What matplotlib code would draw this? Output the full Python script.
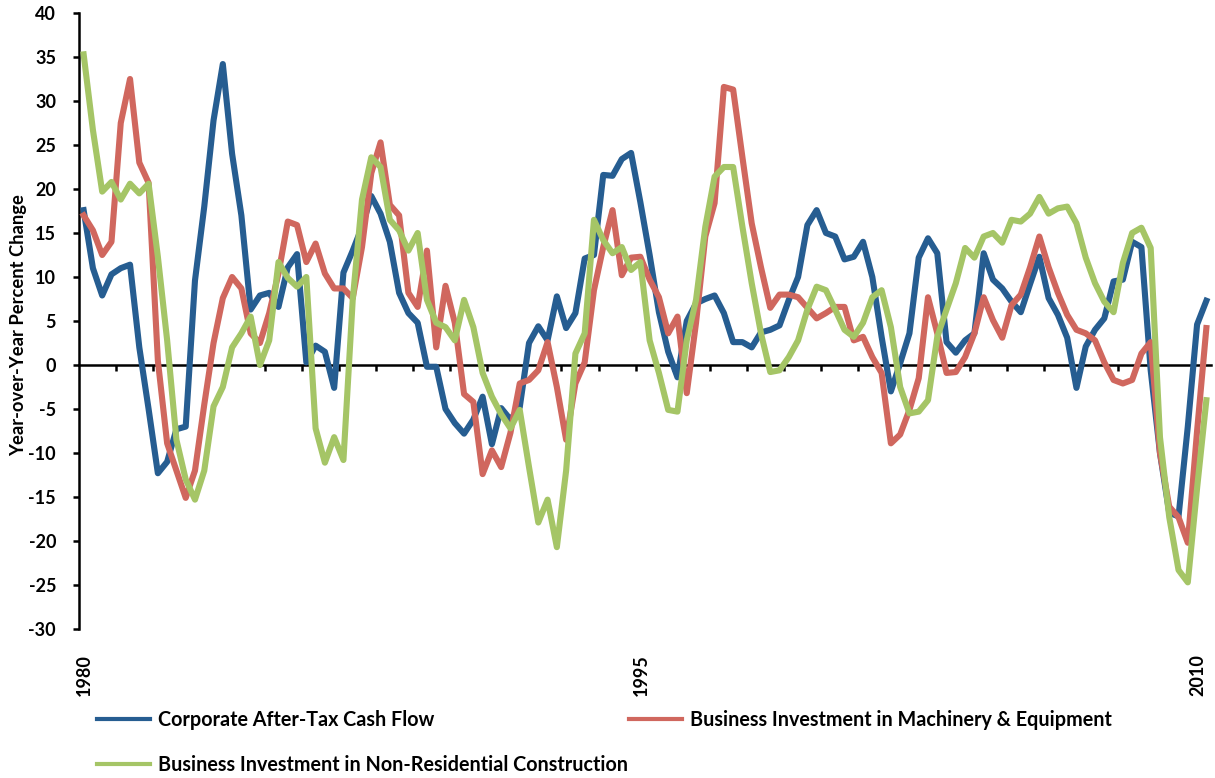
import matplotlib
matplotlib.use("Agg")
import matplotlib.pyplot as plt
from matplotlib import font_manager as fm
from matplotlib.lines import Line2D


def bold_family(candidates):
    # first family that really ships a bold face
    for fam in candidates:
        try:
            path = fm.findfont(fm.FontProperties(family=fam, weight='bold'),
                               fallback_to_default=False)
        except ValueError:
            continue
        if 'bold' in path.lower():
            return fam
    return 'DejaVu Sans'


plt.rcParams['font.family'] = [bold_family(['Lato', 'Noto Sans', 'Open Sans', 'Roboto']),
                               'DejaVu Sans']
plt.rcParams['font.weight'] = 'bold'
plt.rcParams['axes.unicode_minus'] = False

# quarterly year-over-year % changes, 1980Q1 .. 2010Q2
cash_flow = [
    17.6, 11.0, 7.9, 10.3, 11.0, 11.4, 2.0, -5.0, -12.3, -11.0,
    -7.3, -7.0, 9.6, 18.0, 27.8, 34.2, 24.0, 17.0, 6.3, 7.9,
    8.2, 6.6, 11.1, 12.6, 0.3, 2.2, 1.5, -2.6, 10.5, 13.0,
    15.7, 19.2, 17.2, 14.0, 8.2, 5.9, 4.8, -0.2, -0.2, -5.0,
    -6.6, -7.8, -6.2, -3.6, -9.0, -4.9, -6.2, -4.8, 2.5, 4.4,
    2.8, 7.8, 4.2, 5.9, 12.1, 12.5, 21.6, 21.5, 23.4, 24.1,
    18.5, 12.5, 6.0, 1.5, -1.4, 5.0, 7.0, 7.5, 7.9, 5.9,
    2.6, 2.6, 2.0, 3.7, 4.0, 4.5, 7.4, 10.0, 15.9, 17.6,
    15.0, 14.6, 12.0, 12.3, 14.0, 10.0, 3.2, -3.0, 0.2, 3.6,
    12.2, 14.4, 12.7, 2.6, 1.4, 2.8, 3.6, 12.7, 9.7, 8.7,
    7.2, 6.0, 9.2, 12.3, 7.6, 5.7, 3.1, -2.6, 2.1, 4.0,
    5.3, 9.5, 9.7, 14.0, 13.4, -0.6, -10.0, -16.8, -17.2, -7.0,
    4.6, 7.3,
]
machinery = [
    17.0, 15.3, 12.5, 14.0, 27.5, 32.5, 23.0, 20.7, 0.5, -8.9,
    -12.0, -15.1, -12.0, -4.5, 2.5, 7.6, 10.0, 8.7, 3.6, 2.5,
    5.9, 10.4, 16.3, 15.9, 11.7, 13.8, 10.4, 8.7, 8.7, 7.6,
    13.4, 21.8, 25.3, 18.2, 17.0, 8.2, 6.6, 13.0, 2.0, 9.0,
    4.8, -3.3, -4.2, -12.4, -9.7, -11.6, -7.7, -2.1, -1.7, -0.6,
    2.6, -2.5, -8.5, -2.1, 0.3, 8.5, 13.4, 17.6, 10.2, 12.2,
    12.3, 9.7, 7.7, 3.6, 5.5, -3.2, 4.8, 14.6, 18.4, 31.6,
    31.3, 23.6, 16.1, 11.1, 6.5, 8.0, 8.0, 7.7, 6.5, 5.3,
    5.9, 6.6, 6.6, 2.8, 3.2, 0.9, -0.9, -8.9, -7.9, -5.1,
    -1.5, 7.7, 3.6, -0.9, -0.8, 0.9, 3.6, 7.7, 5.1, 3.1,
    6.8, 8.0, 11.1, 14.6, 11.1, 8.2, 5.7, 4.0, 3.6, 2.8,
    0.3, -1.7, -2.1, -1.7, 1.3, 2.6, -10.0, -16.1, -17.3, -20.2,
    -7.5, 4.2,
]
construction = [
    35.3, 26.7, 19.7, 20.8, 18.8, 20.6, 19.5, 20.6, 12.3, 2.8,
    -8.5, -13.0, -15.3, -12.0, -4.7, -2.5, 2.0, 3.6, 5.5, 0.0,
    2.8, 11.7, 9.9, 8.9, 10.0, -7.2, -11.1, -8.2, -10.8, 7.4,
    18.8, 23.6, 22.5, 16.5, 15.3, 13.0, 15.0, 7.4, 4.8, 4.3,
    2.8, 7.4, 4.3, -0.9, -3.6, -5.6, -7.2, -5.1, -11.6, -17.9,
    -15.3, -20.7, -12.0, 1.3, 3.6, 16.5, 14.2, 12.7, 13.4, 10.8,
    11.7, 2.8, -0.9, -5.1, -5.3, 2.8, 7.4, 15.7, 21.4, 22.5,
    22.5, 15.7, 9.3, 3.6, -0.8, -0.6, 0.9, 2.8, 6.3, 8.9,
    8.5, 6.3, 4.0, 3.2, 4.8, 7.7, 8.5, 4.3, -2.5, -5.5,
    -5.3, -4.0, 3.2, 6.3, 9.3, 13.3, 12.2, 14.6, 15.0, 13.9,
    16.5, 16.3, 17.2, 19.1, 17.2, 17.8, 18.0, 16.1, 12.2, 9.3,
    7.2, 6.0, 11.6, 15.0, 15.6, 13.3, -8.2, -17.3, -23.3, -24.7,
    -14.0, -4.0,
]
year_labels = ['1980', '1995', '2010']
label_pos = [0, 60, 120]

names = ['Corporate After-Tax Cash Flow',
         'Business Investment in Machinery & Equipment',
         'Business Investment in Non-Residential Construction']
colors = ['#265D91', '#D0675E', '#A5C566']

W, H = 1215, 778
fig = plt.figure(figsize=(W / 100, H / 100), dpi=100)
ax = fig.add_axes([79 / W, 1 - 629 / H, (1211 - 79) / W, (629 - 13) / H])

n = len(cash_flow)
q = list(range(n))
for vals, c in zip([cash_flow, machinery, construction], colors):
    ax.plot(q, vals, color=c, lw=4.4, solid_joinstyle='round', zorder=3)

ax.set_xlim(-0.5, n - 0.5)
ax.set_ylim(-30, 40)
ax.set_yticks(range(-30, 41, 5))

for s in ['top', 'right']:
    ax.spines[s].set_visible(False)
ax.spines['left'].set_linewidth(1.8)
ax.spines['bottom'].set_position(('data', 0))
ax.spines['bottom'].set_linewidth(1.8)

# yearly tick marks between quarters on the zero line
ax.set_xticks([k * 4 - 0.5 for k in range(1, n // 4 + 1)])
ax.tick_params(axis='x', direction='out', length=4, width=1.8, labelbottom=False)
ax.tick_params(axis='y', direction='out', length=4.5, width=1.8, pad=12, labelsize=13)

for lab, p in zip(year_labels, label_pos):
    ax.annotate(lab, xy=(p, 0), xycoords=('data', 'axes fraction'),
                xytext=(1, -25), textcoords='offset pixels',
                rotation=90, ha='center', va='top', fontsize=13)

fig.text(19 / W, 1 - 325 / H, 'Year-over-Year Percent Change', rotation=90,
         ha='center', va='center', fontsize=13.2)

handles = [Line2D([], [], color=c, lw=3) for c in colors]
order = [0, 2, 1]
fig.legend([handles[i] for i in order], [names[i] for i in order],
           ncol=2, loc='upper left', bbox_to_anchor=(97 / W, 1 - 710 / H),
           frameon=False, fontsize=14.2, handlelength=2.7, handletextpad=0.4,
           columnspacing=0.05, labelspacing=1.25, borderpad=0, borderaxespad=0)

fig.savefig('out.png', dpi=100)
